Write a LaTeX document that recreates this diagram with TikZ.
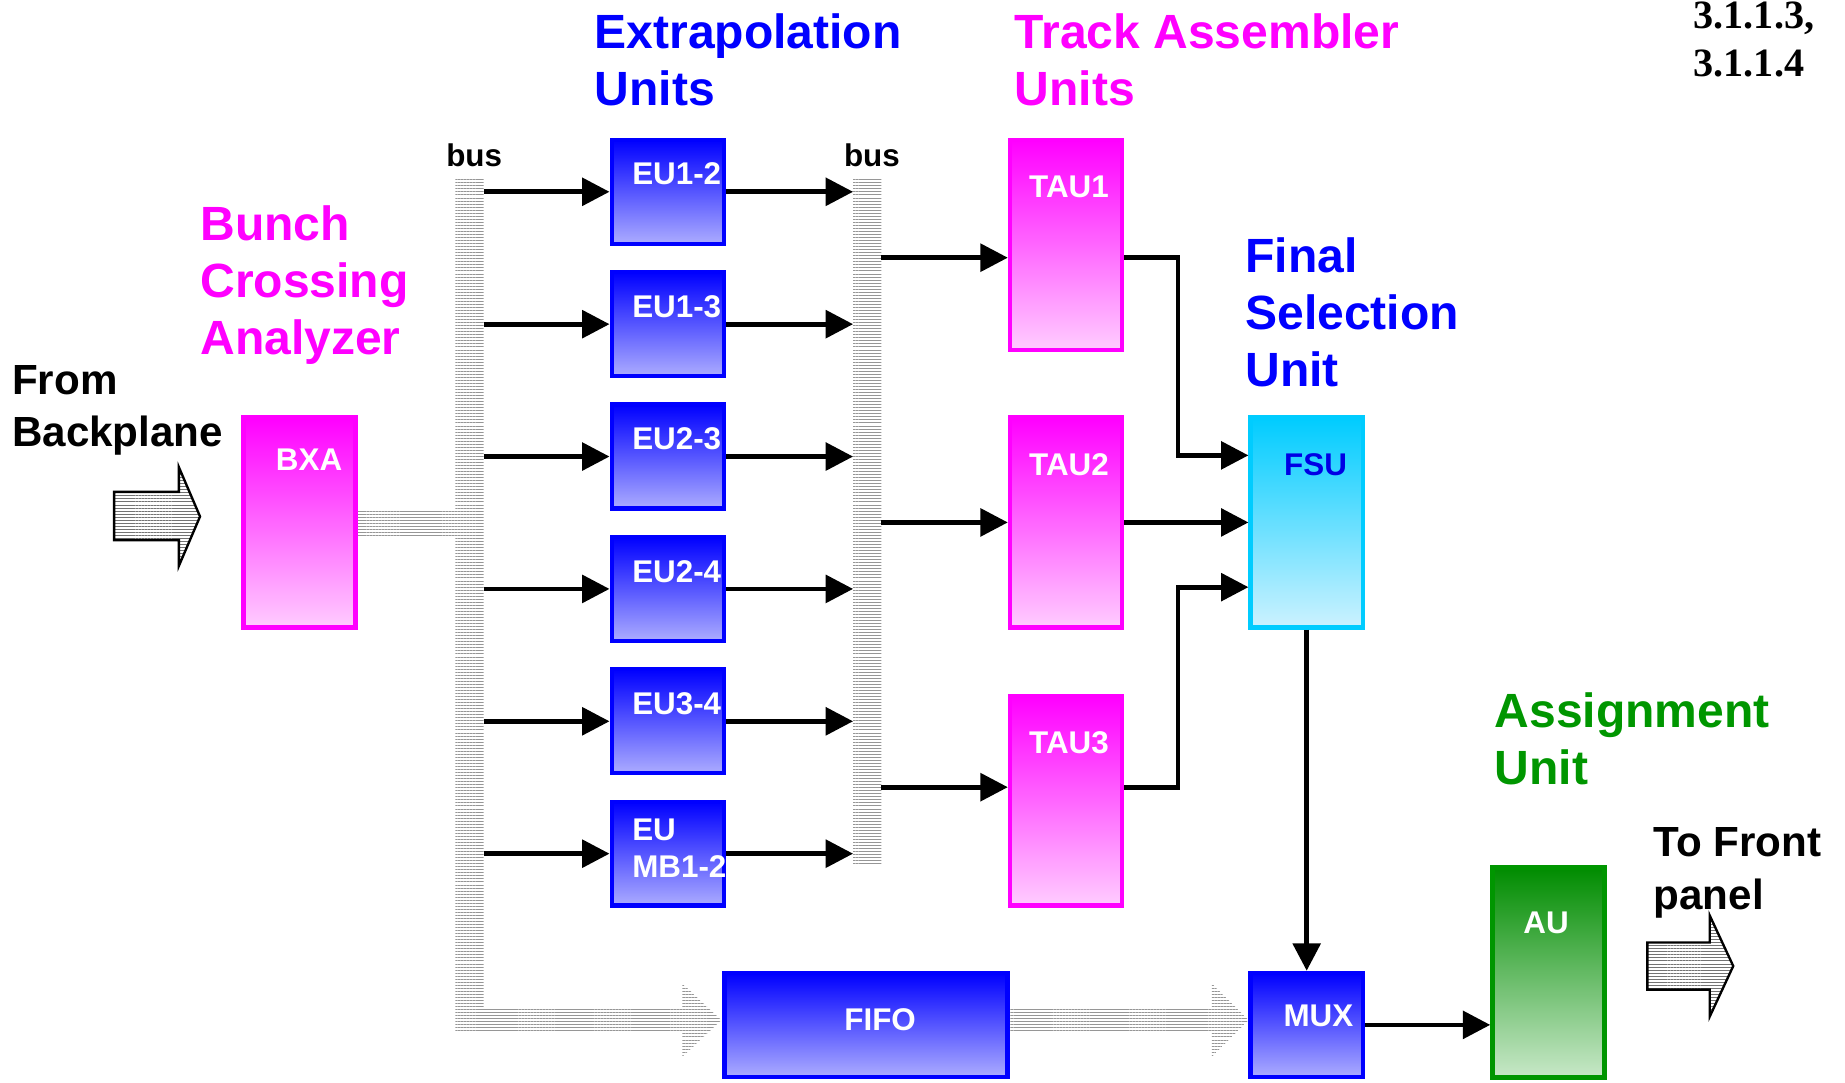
\documentclass[tikz,border=0pt]{standalone}
\usepackage{fontspec}
\setsansfont{Liberation Sans}
\newfontfamily\serifb{Liberation Serif}
\usetikzlibrary{arrows.meta,patterns.meta,calc}
\definecolor{mag}{RGB}{255,0,255}
\definecolor{blu}{RGB}{0,0,255}
\definecolor{grn}{RGB}{0,150,0}
\definecolor{cyn}{RGB}{0,204,255}
\definecolor{hatch}{RGB}{150,150,150}
\definecolor{hatchdark}{RGB}{115,115,115}
\definecolor{eulight}{RGB}{172,172,255}
\definecolor{maglight}{RGB}{255,204,255}
\definecolor{cynlight}{RGB}{204,242,255}
\definecolor{grndark}{RGB}{0,140,0}
\definecolor{grnlight}{RGB}{200,232,200}
\begin{document}
\begin{tikzpicture}[x=0.6pt,y=-0.6pt,
  box/.style={draw, line width=2.2pt, minimum width=57.2pt, inner sep=0pt},
  eubox/.style={box, draw=blu, top color=blu, bottom color=eulight, minimum height=53pt},
  fifobox/.style={eubox, minimum width=144.2pt},
  tallmag/.style={box, draw=mag, top color=mag, bottom color=maglight, minimum height=107pt},
  fsubox/.style={box, draw=cyn, top color=cyn, bottom color=cynlight, minimum height=107pt},
  aubox/.style={box, draw=grn, top color=grndark, bottom color=grnlight, minimum height=107pt},
  lbl/.style={text=white, font=\sffamily\bfseries\fontsize{16}{19}\selectfont, inner sep=0pt, align=left},
  ttl/.style={font=\sffamily\bfseries\fontsize{24.5}{29.1}\selectfont, align=left, inner sep=0pt, anchor=north west},
  side/.style={font=\sffamily\bfseries\fontsize{21.5}{26.8}\selectfont, align=left, inner sep=0pt, anchor=north west},
  hatched/.style={pattern={Lines[angle=0,distance=1.55pt,line width=0.45pt]}, pattern color=hatch},
  blockarrow/.style={draw=black, line width=1.2pt, pattern={Lines[angle=0,distance=1.55pt,line width=0.45pt]}, pattern color=hatchdark},
  arr/.style={line width=2.4pt, -{Triangle[length=14pt,width=14pt]}}
]
\useasboundingbox (0,0) rectangle (1568,920);

% titles
\node[ttl, text=blu] (t-eu) at (505,11.6) {Extrapolation\\Units};
\node[ttl, text=mag] (t-tau) at (862,11.6) {Track Assembler\\Units};
\node[ttl, text=mag] (t-bxa) at (170,174.6) {Bunch\\Crossing\\Analyzer};
\node[ttl, text=blu] (t-fsu) at (1058,201.6) {Final\\Selection\\Unit};
\node[ttl, text=grn] (t-au) at (1270,588) {Assignment\\Unit};
\node[side] (t-from) at (10,310) {From\\Backplane};
\node[side] (t-to) at (1405,703) {To Front\\panel};
\node[inner sep=0pt, anchor=north west, align=left, font=\serifb\bfseries\fontsize{20.5}{24.7}\selectfont] (t-ref) at (1439,1) {3.1.1.3,\\3.1.1.4};
\node[inner sep=0pt, anchor=base, font=\sffamily\bfseries\fontsize{16}{19}\selectfont] (t-bus1) at (403,141.7) {bus};
\node[inner sep=0pt, anchor=base, font=\sffamily\bfseries\fontsize{16}{19}\selectfont] (t-bus2) at (741,141.7) {bus};

% hatched buses
\path[hatched] (304,433) rectangle (388,455);
\path[hatched] (387,152) -- (411,152) -- (411,857) -- (580,857) -- (580,836) -- (613,867) -- (580,898) -- (580,877) -- (387,877) -- cycle;
\path[hatched] (725,152) rectangle (749,734);
\path[hatched] (858,857) -- (1030,857) -- (1030,836) -- (1061,867) -- (1030,898) -- (1030,877) -- (858,877) -- cycle;

% block arrows
\path[blockarrow] (97,418) -- (152,418) -- (152,397) -- (170,439) -- (152,481) -- (152,459) -- (97,459) -- cycle;
\path[blockarrow] (1400,801) -- (1453,801) -- (1453,778) -- (1473,821) -- (1453,864) -- (1453,841) -- (1400,841) -- cycle;

% boxes
\node[tallmag] (bxa) at (254.5,444) {};
\node[eubox] (eu12) at (567.5,163) {};
\node[eubox] (eu13) at (567.5,275.5) {};
\node[eubox] (eu23) at (567.5,388) {};
\node[eubox] (eu24) at (567.5,500.5) {};
\node[eubox] (eu34) at (567.5,613) {};
\node[eubox] (eumb) at (567.5,725.5) {};
\node[tallmag] (tau1) at (906,208) {};
\node[tallmag] (tau2) at (906,444) {};
\node[tallmag] (tau3) at (906,680.5) {};
\node[fsubox] (fsu) at (1110.5,444) {};
\node[fifobox] (fifo) at (736,871) {};
\node[eubox] (mux) at (1110.5,871) {};
\node[aubox] (au) at (1316,826.5) {};

% labels
\node[lbl] (l-bxa) at (262.7,391) {BXA};
\node[lbl, anchor=west] (l-eu12) at (537,148) {EU1-2};
\node[lbl, anchor=west] (l-eu13) at (537,260.5) {EU1-3};
\node[lbl, anchor=west] (l-eu23) at (537,373) {EU2-3};
\node[lbl, anchor=west] (l-eu24) at (537,485.5) {EU2-4};
\node[lbl, anchor=west] (l-eu34) at (537,598) {EU3-4};
\node[lbl, anchor=north west, font=\sffamily\bfseries\fontsize{16}{19}\selectfont] (l-eumb) at (537,695.5) {EU\\MB1-2};
\node[lbl] (l-tau1) at (908.5,158.6) {TAU1};
\node[lbl] (l-tau2) at (908.5,395) {TAU2};
\node[lbl] (l-tau3) at (908.5,631) {TAU3};
\node[lbl, text=blu!90!black] (l-fsu) at (1118,395) {FSU};
\node[lbl] (l-fifo) at (748,867) {FIFO};
\node[lbl] (l-mux) at (1120.5,863) {MUX};
\node[lbl] (l-au) at (1314,784) {AU};

% connector anchors on the buses
\coordinate (b1r) at (411,0);
\coordinate (b2l) at (725,0);
\coordinate (t1in) at (749,219);
\coordinate (t2in) at (749,444);
\coordinate (t3in) at (749,669);
\coordinate (jx) at (1001,0);

% bus1 -> EU -> bus2
\foreach \n in {eu12,eu13,eu23,eu24,eu34,eumb}{
  \draw[arr] (b1r |- \n) -- (\n);
  \draw[arr] (\n) -- (b2l |- \n);
}
% bus2 -> TAU
\draw[arr] (t1in) -- (tau1.west |- t1in);
\draw[arr] (t2in) -- (tau2.west |- t2in);
\draw[arr] (t3in) -- (tau3.west |- t3in);
% TAU -> FSU
\draw[arr] (tau1.east |- t1in) -- (jx |- t1in) |- ([yshift=34.2pt]fsu.west);
\draw[arr] (tau2) -- (fsu);
\draw[arr] (tau3.east |- t3in) -- (jx |- t3in) |- ([yshift=-33pt]fsu.west);
% FSU -> MUX -> AU
\draw[arr] (fsu) -- (mux);
\draw[arr] (mux) -- (au.west |- mux);
\end{tikzpicture}
\end{document}
